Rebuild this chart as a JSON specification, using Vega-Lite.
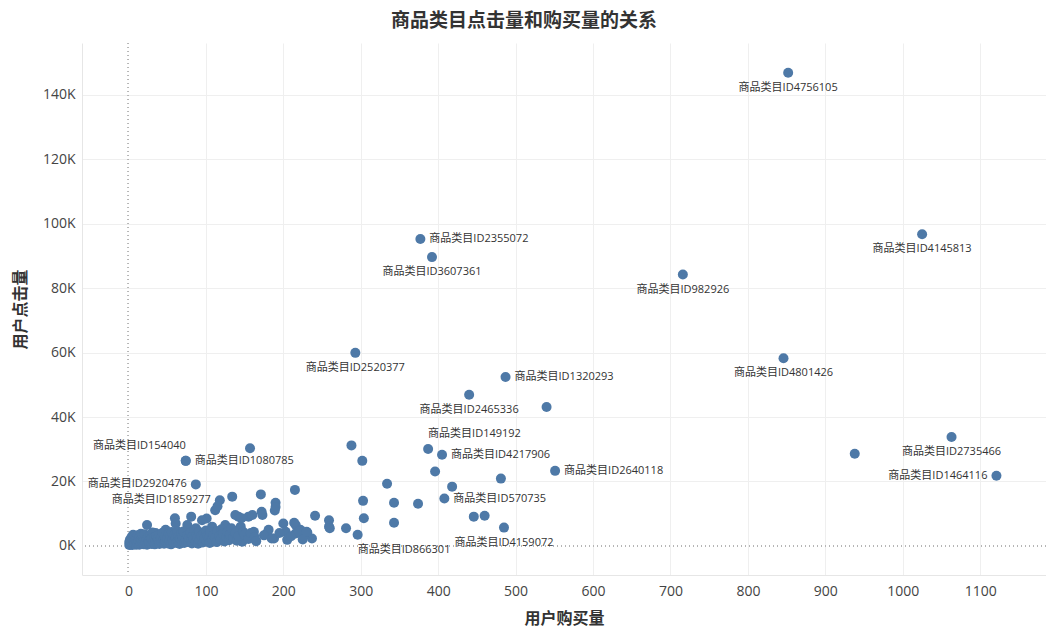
{
  "$schema": "https://vega.github.io/schema/vega-lite/v6.json",
  "autosize": {"type": "none"},
  "padding": {"left": 82, "top": 43, "right": 0, "bottom": 64},
  "width": 964,
  "height": 532,
  "background": "white",
  "title": {
    "text": "商品类目点击量和购买量的关系",
    "font": "Noto Sans CJK SC",
    "fontSize": 19,
    "fontWeight": "bold",
    "color": "#333333",
    "anchor": "middle",
    "frame": "group",
    "dx": -40,
    "offset": 12
  },
  "config": {
    "view": {"stroke": null},
    "axis": {
      "labelFont": "Open Sans",
      "labelFontSize": 14,
      "labelColor": "#444444",
      "titleFont": "Noto Sans CJK SC",
      "titleFontSize": 16,
      "titleFontWeight": "bold",
      "titleColor": "#333333",
      "ticks": false,
      "tickSize": 0,
      "domainColor": "#e6e6e6",
      "gridColor": {"condition": {"test": "datum.value === 0", "value": "transparent"}, "value": "#efefef"},
      "gridWidth": 1
    }
  },
  "data": {
    "values": [
      {"buy": 852, "click": 146800, "label": "商品类目ID4756105"},
      {"buy": 1025, "click": 96700, "label": "商品类目ID4145813"},
      {"buy": 716, "click": 84200, "label": "商品类目ID982926"},
      {"buy": 377, "click": 95200, "label": "商品类目ID2355072"},
      {"buy": 392, "click": 89600, "label": "商品类目ID3607361"},
      {"buy": 293, "click": 59900, "label": "商品类目ID2520377"},
      {"buy": 487, "click": 52400, "label": "商品类目ID1320293"},
      {"buy": 440, "click": 46900, "label": "商品类目ID2465336"},
      {"buy": 846, "click": 58200, "label": "商品类目ID4801426"},
      {"buy": 1063, "click": 33800, "label": "商品类目ID2735466"},
      {"buy": 1121, "click": 21800, "label": "商品类目ID1464116"},
      {"buy": 387, "click": 30100, "label": "商品类目ID149192"},
      {"buy": 405, "click": 28300, "label": "商品类目ID4217906"},
      {"buy": 551, "click": 23300, "label": "商品类目ID2640118"},
      {"buy": 408, "click": 14700, "label": "商品类目ID570735"},
      {"buy": 485, "click": 5700, "label": "商品类目ID4159072"},
      {"buy": 296, "click": 3500, "label": "商品类目ID866301"},
      {"buy": 74, "click": 26400, "label": "商品类目ID154040"},
      {"buy": 74, "click": 26400, "label": "商品类目ID1080785"},
      {"buy": 87, "click": 19100, "label": "商品类目ID2920476"},
      {"buy": 118, "click": 14200, "label": "商品类目ID1859277"},
      {"buy": 540, "click": 43100},
      {"buy": 938, "click": 28600},
      {"buy": 396, "click": 23100},
      {"buy": 481, "click": 20900},
      {"buy": 418, "click": 18400},
      {"buy": 374, "click": 13100},
      {"buy": 446, "click": 9100},
      {"buy": 460, "click": 9400},
      {"buy": 288, "click": 31200},
      {"buy": 302, "click": 26400},
      {"buy": 334, "click": 19300},
      {"buy": 303, "click": 14000},
      {"buy": 343, "click": 13400},
      {"buy": 304, "click": 8600},
      {"buy": 343, "click": 7200},
      {"buy": 241, "click": 9400},
      {"buy": 259, "click": 8000},
      {"buy": 259, "click": 6000},
      {"buy": 260, "click": 5500},
      {"buy": 281, "click": 5500},
      {"buy": 215, "click": 17400},
      {"buy": 237, "click": 2300},
      {"buy": 231, "click": 4200},
      {"buy": 157, "click": 30300},
      {"buy": 134, "click": 15300},
      {"buy": 171, "click": 16000},
      {"buy": 190, "click": 13400},
      {"buy": 190, "click": 12100},
      {"buy": 189, "click": 11000},
      {"buy": 172, "click": 10600},
      {"buy": 173, "click": 9600},
      {"buy": 155, "click": 9100},
      {"buy": 160, "click": 9600},
      {"buy": 142, "click": 9100},
      {"buy": 138, "click": 9600},
      {"buy": 145, "click": 6000},
      {"buy": 145, "click": 2900},
      {"buy": 147, "click": 1300},
      {"buy": 162, "click": 4400},
      {"buy": 181, "click": 5000},
      {"buy": 179, "click": 3900},
      {"buy": 188, "click": 2300},
      {"buy": 200, "click": 7000},
      {"buy": 203, "click": 4400},
      {"buy": 205, "click": 1900},
      {"buy": 214, "click": 7200},
      {"buy": 216, "click": 6500},
      {"buy": 216, "click": 3900},
      {"buy": 222, "click": 5000},
      {"buy": 226, "click": 3300},
      {"buy": 112, "click": 11100},
      {"buy": 115, "click": 12300},
      {"buy": 101, "click": 8500},
      {"buy": 81, "click": 9100},
      {"buy": 60, "click": 8600},
      {"buy": 61, "click": 7000},
      {"buy": 24, "click": 6500},
      {"buy": 76, "click": 6500},
      {"buy": 95, "click": 8000},
      {"buy": 108, "click": 6000},
      {"buy": 87, "click": 5500},
      {"buy": 146, "click": 8600},
      {"buy": 125, "click": 6500},
      {"buy": 48, "click": 5000},
      {"buy": 35, "click": 4000},
      {"buy": 9, "click": 2900},
      {"buy": 1, "click": 300},
      {"buy": 1, "click": 1200},
      {"buy": 2, "click": 600},
      {"buy": 2, "click": 2000},
      {"buy": 3, "click": 400},
      {"buy": 3, "click": 1500},
      {"buy": 4, "click": 900},
      {"buy": 4, "click": 2800},
      {"buy": 5, "click": 300},
      {"buy": 5, "click": 1800},
      {"buy": 6, "click": 700},
      {"buy": 6, "click": 3500},
      {"buy": 7, "click": 1200},
      {"buy": 7, "click": 2300},
      {"buy": 8, "click": 500},
      {"buy": 8, "click": 3000},
      {"buy": 9, "click": 1600},
      {"buy": 10, "click": 400},
      {"buy": 10, "click": 2200},
      {"buy": 11, "click": 1000},
      {"buy": 12, "click": 3300},
      {"buy": 12, "click": 700},
      {"buy": 13, "click": 1900},
      {"buy": 14, "click": 400},
      {"buy": 14, "click": 2600},
      {"buy": 15, "click": 1300},
      {"buy": 16, "click": 3800},
      {"buy": 16, "click": 600},
      {"buy": 17, "click": 2100},
      {"buy": 18, "click": 900},
      {"buy": 18, "click": 3100},
      {"buy": 19, "click": 1500},
      {"buy": 20, "click": 500},
      {"buy": 20, "click": 2500},
      {"buy": 21, "click": 3600},
      {"buy": 22, "click": 1100},
      {"buy": 23, "click": 2000},
      {"buy": 24, "click": 400},
      {"buy": 25, "click": 2900},
      {"buy": 26, "click": 1400},
      {"buy": 27, "click": 800},
      {"buy": 28, "click": 3300},
      {"buy": 29, "click": 1900},
      {"buy": 30, "click": 600},
      {"buy": 30, "click": 2400},
      {"buy": 31, "click": 4200},
      {"buy": 32, "click": 1200},
      {"buy": 33, "click": 2800},
      {"buy": 34, "click": 500},
      {"buy": 35, "click": 1800},
      {"buy": 36, "click": 3000},
      {"buy": 37, "click": 900},
      {"buy": 38, "click": 2200},
      {"buy": 39, "click": 1500},
      {"buy": 40, "click": 3500},
      {"buy": 40, "click": 600},
      {"buy": 42, "click": 2600},
      {"buy": 43, "click": 1100},
      {"buy": 44, "click": 4100},
      {"buy": 45, "click": 1900},
      {"buy": 46, "click": 700},
      {"buy": 47, "click": 3000},
      {"buy": 48, "click": 1400},
      {"buy": 50, "click": 2300},
      {"buy": 51, "click": 800},
      {"buy": 52, "click": 3700},
      {"buy": 53, "click": 1600},
      {"buy": 54, "click": 2900},
      {"buy": 55, "click": 500},
      {"buy": 56, "click": 4300},
      {"buy": 57, "click": 2000},
      {"buy": 58, "click": 1100},
      {"buy": 59, "click": 3400},
      {"buy": 61, "click": 2500},
      {"buy": 62, "click": 900},
      {"buy": 63, "click": 4600},
      {"buy": 64, "click": 1700},
      {"buy": 65, "click": 3000},
      {"buy": 66, "click": 600},
      {"buy": 67, "click": 2200},
      {"buy": 68, "click": 3900},
      {"buy": 69, "click": 1300},
      {"buy": 70, "click": 2800},
      {"buy": 71, "click": 4500},
      {"buy": 72, "click": 900},
      {"buy": 74, "click": 1900},
      {"buy": 76, "click": 3300},
      {"buy": 77, "click": 1200},
      {"buy": 78, "click": 2500},
      {"buy": 80, "click": 4200},
      {"buy": 81, "click": 1600},
      {"buy": 82, "click": 800},
      {"buy": 83, "click": 3000},
      {"buy": 84, "click": 2100},
      {"buy": 85, "click": 5000},
      {"buy": 87, "click": 1300},
      {"buy": 88, "click": 3600},
      {"buy": 89, "click": 2400},
      {"buy": 90, "click": 700},
      {"buy": 91, "click": 4400},
      {"buy": 92, "click": 1800},
      {"buy": 94, "click": 3000},
      {"buy": 96, "click": 1100},
      {"buy": 97, "click": 3900},
      {"buy": 98, "click": 2300},
      {"buy": 100, "click": 4800},
      {"buy": 101, "click": 1500},
      {"buy": 102, "click": 3200},
      {"buy": 104, "click": 2600},
      {"buy": 105, "click": 900},
      {"buy": 106, "click": 4300},
      {"buy": 108, "click": 1900},
      {"buy": 110, "click": 3400},
      {"buy": 112, "click": 2700},
      {"buy": 114, "click": 1200},
      {"buy": 115, "click": 4600},
      {"buy": 117, "click": 3000},
      {"buy": 119, "click": 2000},
      {"buy": 120, "click": 5200},
      {"buy": 122, "click": 3800},
      {"buy": 124, "click": 1400},
      {"buy": 126, "click": 2800},
      {"buy": 128, "click": 4300},
      {"buy": 130, "click": 1800},
      {"buy": 131, "click": 3500},
      {"buy": 133, "click": 5500},
      {"buy": 135, "click": 2500},
      {"buy": 138, "click": 4000},
      {"buy": 140, "click": 1600},
      {"buy": 142, "click": 3000},
      {"buy": 148, "click": 4400},
      {"buy": 150, "click": 3500},
      {"buy": 155, "click": 2200},
      {"buy": 158, "click": 4000},
      {"buy": 163, "click": 2800},
      {"buy": 165, "click": 1500},
      {"buy": 175, "click": 3300},
      {"buy": 185, "click": 2300},
      {"buy": 195, "click": 4000},
      {"buy": 210, "click": 3000},
      {"buy": 220, "click": 4400},
      {"buy": 225, "click": 2000},
      {"buy": 230, "click": 4400}
    ]
  },
  "encoding": {
    "x": {
      "field": "buy",
      "type": "quantitative",
      "title": "用户购买量",
      "scale": {"domain": [-60, 1185], "nice": false, "zero": false},
      "axis": {
        "values": [0, 100, 200, 300, 400, 500, 600, 700, 800, 900, 1000, 1100],
        "format": "d",
        "labelPadding": 9,
        "titlePadding": 12
      }
    },
    "y": {
      "field": "click",
      "type": "quantitative",
      "title": "用户点击量",
      "scale": {"domain": [-9000, 156000], "nice": false, "zero": false},
      "axis": {
        "values": [0, 20000, 40000, 60000, 80000, 100000, 120000, 140000],
        "labelExpr": "datum.value / 1000 + 'K'",
        "labelPadding": 7,
        "titlePadding": 14
      }
    }
  },
  "layer": [
    {
      "mark": {"type": "rule", "color": "#b5b5b5", "strokeDash": [1, 3], "strokeWidth": 1},
      "encoding": {"x": {"datum": 0}, "y": null}
    },
    {
      "mark": {"type": "rule", "color": "#b5b5b5", "strokeDash": [1, 3], "strokeWidth": 1},
      "encoding": {"y": {"datum": 0}, "x": null}
    },
    {
      "mark": {"type": "circle", "size": 100, "opacity": 1, "color": "#4e79a7"}
    },
    {
      "transform": [{"filter": {"field": "label", "oneOf": ["商品类目ID2355072", "商品类目ID1320293", "商品类目ID4217906", "商品类目ID2640118", "商品类目ID570735", "商品类目ID1080785"]}}],
      "mark": {"type": "text", "align": "left", "baseline": "middle", "dx": 9, "font": "Open Sans, Noto Sans CJK SC", "fontSize": 11, "color": "#333333"},
      "encoding": {"text": {"field": "label"}}
    },
    {
      "transform": [{"filter": {"field": "label", "oneOf": ["商品类目ID1464116", "商品类目ID2920476", "商品类目ID1859277"]}}],
      "mark": {"type": "text", "align": "right", "baseline": "middle", "dx": -9, "font": "Open Sans, Noto Sans CJK SC", "fontSize": 11, "color": "#333333"},
      "encoding": {"text": {"field": "label"}}
    },
    {
      "transform": [{"filter": {"field": "label", "oneOf": ["商品类目ID4756105", "商品类目ID4145813", "商品类目ID982926", "商品类目ID3607361", "商品类目ID2520377", "商品类目ID2465336", "商品类目ID4801426", "商品类目ID2735466", "商品类目ID4159072"]}}],
      "mark": {"type": "text", "align": "center", "baseline": "middle", "dy": 15, "font": "Open Sans, Noto Sans CJK SC", "fontSize": 11, "color": "#333333"},
      "encoding": {"text": {"field": "label"}}
    },
    {
      "transform": [{"filter": {"field": "label", "oneOf": ["商品类目ID866301"]}}],
      "mark": {"type": "text", "align": "left", "baseline": "middle", "dy": 15, "font": "Open Sans, Noto Sans CJK SC", "fontSize": 11, "color": "#333333"},
      "encoding": {"text": {"field": "label"}}
    },
    {
      "transform": [{"filter": {"field": "label", "oneOf": ["商品类目ID149192"]}}],
      "mark": {"type": "text", "align": "left", "baseline": "middle", "dy": -15, "font": "Open Sans, Noto Sans CJK SC", "fontSize": 11, "color": "#333333"},
      "encoding": {"text": {"field": "label"}}
    },
    {
      "transform": [{"filter": {"field": "label", "oneOf": ["商品类目ID154040"]}}],
      "mark": {"type": "text", "align": "right", "baseline": "middle", "dy": -15, "font": "Open Sans, Noto Sans CJK SC", "fontSize": 11, "color": "#333333"},
      "encoding": {"text": {"field": "label"}}
    }
  ]
}
